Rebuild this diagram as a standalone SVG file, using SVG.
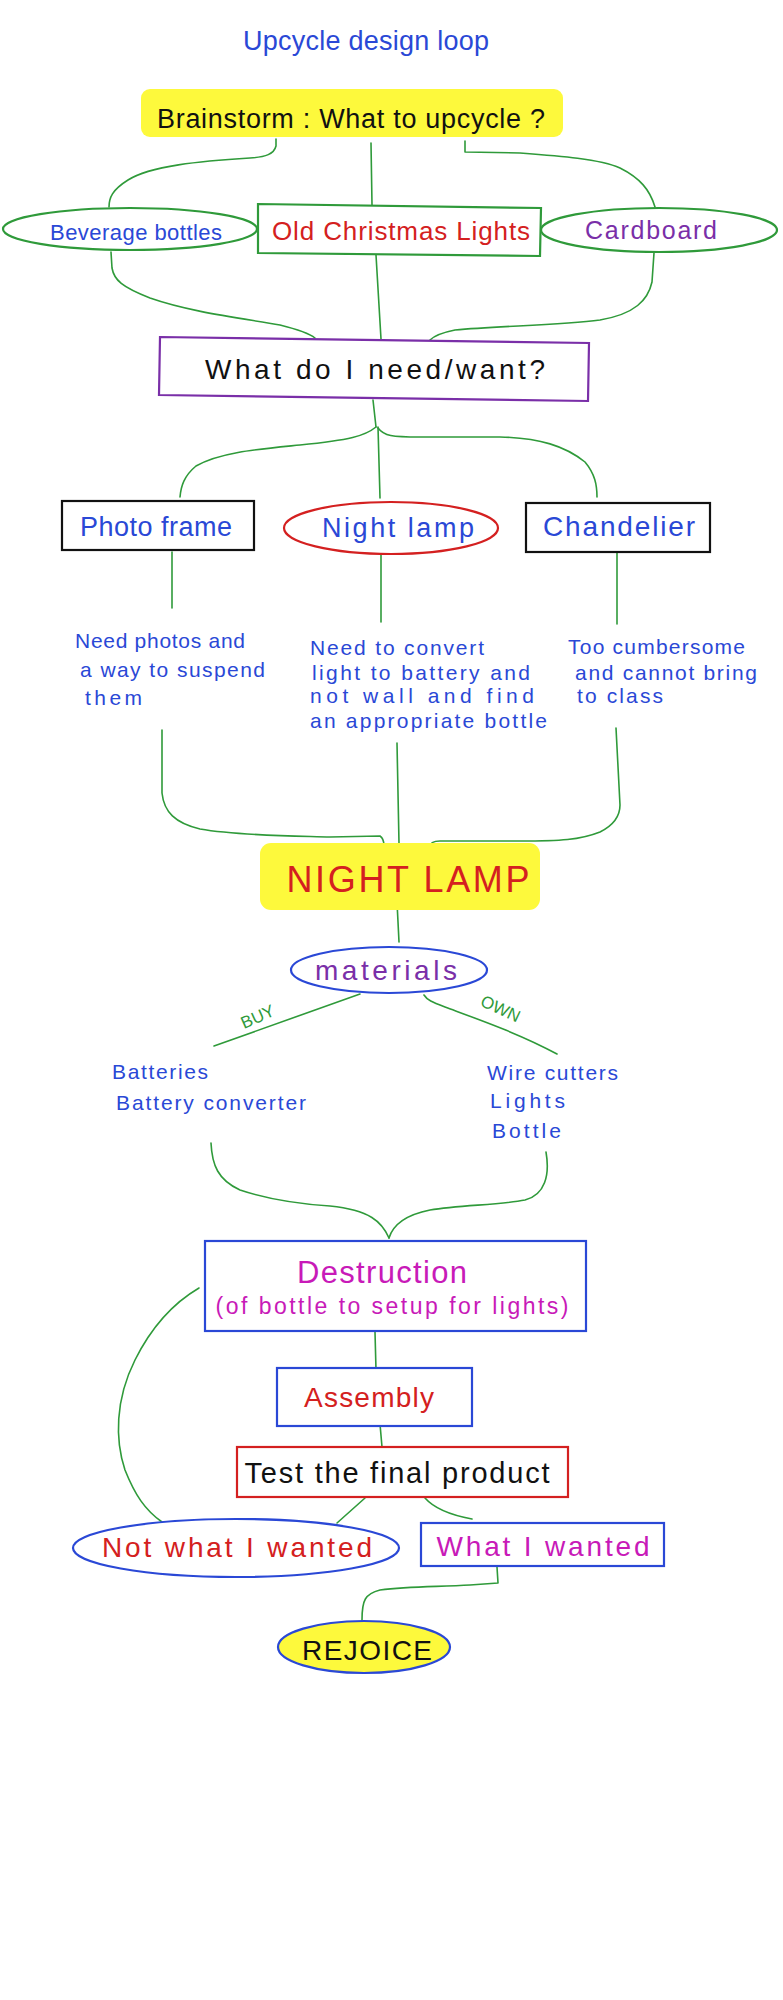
<svg xmlns="http://www.w3.org/2000/svg" width="783" height="2000" viewBox="0 0 783 2000">
<style>
text{font-family:"Liberation Sans","DejaVu Sans",sans-serif;}
.c{fill:none;stroke:#2f9a3a;stroke-width:1.6;stroke-linecap:round;stroke-linejoin:round;}
.box{fill:#fff;stroke-width:2.2;}
.yel{fill:#fdf93c;}
.blue{fill:#2a48d6;}
.red{fill:#d42020;}
.pur{fill:#7a2fa8;}
.mag{fill:#c81ab8;}
.blk{fill:#111;}
.grn{fill:#2f9a3a;}
.sb{stroke:#2a48d6;}
.sg{stroke:#2f9a3a;}
.sr{stroke:#d42020;}
.sk{stroke:#111;}
.sp{stroke:#7a2fa8;}
</style>
<rect width="783" height="2000" fill="#fff"/>

<g id="connectors">
  <path class="c" d="M276,139 L276,146 C274,154 266,157 250,158 C200,161 150,166 128,180 C112,190 109,198 109,207"/>
  <path class="c" d="M371,143 L372,205"/>
  <path class="c" d="M465,141 L465,152 L520,153 C560,156 600,159 620,168 C640,178 650,190 655,207"/>
  <path class="c" d="M111,252 L112,268 C114,280 122,287 150,298 C190,312 240,318 280,325 C300,330 310,334 315,338"/>
  <path class="c" d="M376,255 L381,339"/>
  <path class="c" d="M654,253 L652,282 C648,300 635,314 600,320 C560,325 500,326 455,330 C440,333 434,336 430,340"/>
  <path class="c" d="M373,400 L376,427"/>
  <path class="c" d="M376,427 C365,436 350,440 300,445 C260,449 220,452 196,466 C184,476 181,486 180,497"/>
  <path class="c" d="M378,427 L380,498"/>
  <path class="c" d="M378,428 C384,436 392,437 420,437 L500,437 C540,438 565,446 585,462 C595,474 597,485 597,497"/>
  <path class="c" d="M172,552 L172,608"/>
  <path class="c" d="M381,552 L381,622"/>
  <path class="c" d="M617,553 L617,624"/>
  <path class="c" d="M162,730 L162,793 C164,812 175,823 200,829 C240,836 300,836 330,837 L380,836 C383,838 384,842 384,846"/>
  <path class="c" d="M397,743 L399,843"/>
  <path class="c" d="M616,728 L620,805 C620,818 612,826 600,832 C580,840 560,841 520,841 L440,841 C433,841 430,843 430,847"/>
  <path class="c" d="M397,902 L399,942"/>
  <path class="c" d="M360,994 L214,1046"/>
  <path class="c" d="M424,995 C427,1000 432,1002 445,1007 C480,1020 520,1034 557,1054"/>
  <path class="c" d="M211,1143 C212,1165 218,1180 240,1190 C270,1200 300,1204 330,1206 C370,1210 382,1222 389,1238"/>
  <path class="c" d="M546,1152 C550,1175 545,1195 525,1200 C500,1205 460,1205 430,1210 C405,1215 393,1225 389,1238"/>
  <path class="c" d="M199,1288 C170,1305 150,1330 135,1360 C115,1400 115,1440 125,1470 C135,1495 145,1510 162,1522"/>
  <path class="c" d="M375,1332 L376,1370"/>
  <path class="c" d="M380,1424 L382,1447"/>
  <path class="c" d="M365,1498 L337,1523"/>
  <path class="c" d="M425,1498 C432,1506 445,1514 472,1519"/>
  <path class="c" d="M497,1567 L498,1583 L470,1585 C440,1587 410,1586 380,1590 C365,1594 362,1600 362,1620"/>
  <text class="grn" font-size="17" text-anchor="middle" transform="translate(260,1022) rotate(-24)">BUY</text>
  <text class="grn" font-size="17" text-anchor="middle" transform="translate(498,1014) rotate(25)">OWN</text>
</g>

<g id="title">
  <text class="blue" x="366" y="50" font-size="27" text-anchor="middle" textLength="246">Upcycle design loop</text>
</g>

<g id="brainstorm">
  <rect class="yel" x="141" y="89" width="422" height="48" rx="9"/>
  <text class="blk" x="351" y="128" font-size="27" text-anchor="middle" textLength="388">Brainstorm : What to upcycle ?</text>
</g>

<g id="beverage">
  <ellipse class="box sg" cx="130" cy="229" rx="127" ry="21" stroke-width="1.8"/>
  <text class="blue" x="136" y="240" font-size="22" text-anchor="middle" textLength="172">Beverage bottles</text>
</g>

<g id="christmas">
  <polygon class="box sg" points="258,204 541,208 540,256 258,253" stroke-width="1.8"/>
  <text class="red" x="401" y="240" font-size="26" text-anchor="middle" textLength="258">Old Christmas Lights</text>
</g>

<g id="cardboard">
  <ellipse class="box sg" cx="659" cy="230" rx="118" ry="22" stroke-width="1.8"/>
  <text class="pur" x="651" y="239" font-size="25" text-anchor="middle" textLength="132">Cardboard</text>
</g>

<g id="needwant">
  <polygon class="box sp" points="160,337 589,343 588,401 159,395"/>
  <text class="blk" x="375" y="379" font-size="28" text-anchor="middle" textLength="340">What do I need/want?</text>
</g>

<g id="photo">
  <rect class="box sk" x="62" y="501" width="192" height="49"/>
  <text class="blue" x="156" y="536" font-size="27" text-anchor="middle" textLength="152">Photo frame</text>
</g>

<g id="nightlamp-option">
  <ellipse class="box sr" cx="391" cy="528" rx="107" ry="26" stroke-width="2"/>
  <text class="blue" x="398" y="537" font-size="27" text-anchor="middle" textLength="152">Night lamp</text>
</g>

<g id="chandelier">
  <rect class="box sk" x="526" y="503" width="184" height="49"/>
  <text class="blue" x="619" y="536" font-size="28" text-anchor="middle" textLength="152">Chandelier</text>
</g>

<g id="note-photo" class="blue" font-size="21">
  <text x="75" y="648" textLength="170">Need photos and</text>
  <text x="80" y="677" textLength="185">a way to suspend</text>
  <text x="85" y="705" textLength="57">them</text>
</g>

<g id="note-lamp" class="blue" font-size="21">
  <text x="310" y="655" textLength="174">Need to convert</text>
  <text x="312" y="680" textLength="218">light to battery and</text>
  <text x="310" y="703" textLength="224">not wall and find</text>
  <text x="310" y="728" textLength="237">an appropriate bottle</text>
</g>

<g id="note-chandelier" class="blue" font-size="21">
  <text x="568" y="654" textLength="177">Too cumbersome</text>
  <text x="575" y="680" textLength="182">and cannot bring</text>
  <text x="577" y="703" textLength="86">to class</text>
</g>

<g id="nightlamp">
  <rect class="yel" x="260" y="843" width="280" height="67" rx="11"/>
  <text class="red" x="408" y="892" font-size="36" text-anchor="middle" textLength="243">NIGHT LAMP</text>
</g>

<g id="materials">
  <ellipse class="box sb" cx="389" cy="970" rx="98" ry="23"/>
  <text class="pur" x="386" y="980" font-size="28" text-anchor="middle" textLength="142">materials</text>
</g>

<g id="buy-list" class="blue" font-size="21">
  <text x="112" y="1079" textLength="96">Batteries</text>
  <text x="116" y="1110" textLength="190">Battery converter</text>
</g>

<g id="own-list" class="blue" font-size="21">
  <text x="487" y="1080" textLength="131">Wire cutters</text>
  <text x="490" y="1108" textLength="75">Lights</text>
  <text x="492" y="1138" textLength="69">Bottle</text>
</g>

<g id="destruction">
  <rect class="box sb" x="205" y="1241" width="381" height="90"/>
  <text class="mag" x="382" y="1283" font-size="31" text-anchor="middle" textLength="170">Destruction</text>
  <text class="mag" x="392" y="1314" font-size="23" text-anchor="middle" textLength="353">(of bottle to setup for lights)</text>
</g>

<g id="assembly">
  <rect class="box sb" x="277" y="1368" width="195" height="58"/>
  <text class="red" x="369" y="1407" font-size="28" text-anchor="middle" textLength="130">Assembly</text>
</g>

<g id="test">
  <rect class="box sr" x="237" y="1447" width="331" height="50"/>
  <text class="blk" x="397" y="1483" font-size="29" text-anchor="middle" textLength="305">Test the final product</text>
</g>

<g id="not-wanted">
  <ellipse class="box sb" cx="236" cy="1548" rx="163" ry="29"/>
  <text class="red" x="237" y="1557" font-size="28" text-anchor="middle" textLength="270">Not what I wanted</text>
</g>

<g id="wanted">
  <rect class="box sb" x="421" y="1523" width="243" height="43"/>
  <text class="mag" x="543" y="1556" font-size="28" text-anchor="middle" textLength="213">What I wanted</text>
</g>

<g id="rejoice">
  <ellipse class="yel sb" cx="364" cy="1647" rx="86" ry="26" stroke-width="2.2"/>
  <text class="blk" x="367" y="1660" font-size="28" text-anchor="middle" textLength="130">REJOICE</text>
</g>
</svg>
